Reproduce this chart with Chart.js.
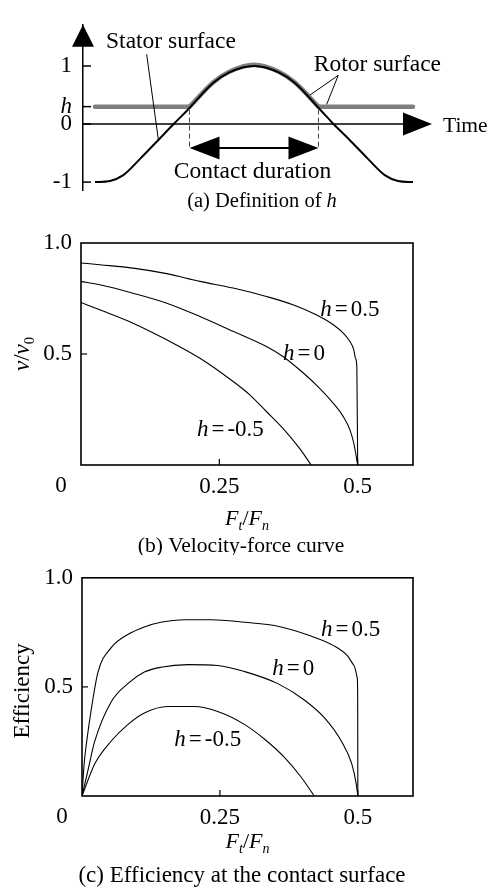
<!DOCTYPE html>
<html>
<head>
<meta charset="utf-8">
<title>Contact model curves</title>
<script src="https://cdn.jsdelivr.net/npm/chart.js@4.4.1/dist/chart.umd.min.js"></script>
<style>
  html, body { margin: 0; padding: 0; background: #fff; }
  body { position: relative; width: 490px; height: 890px; overflow: hidden; }
  canvas { position: absolute; left: 0; }
  #panelA { top: 0; }
  #panelB { top: 215px; }
  #panelC { top: 555px; }
</style>
</head>
<body>
<canvas id="panelA" width="490" height="215"></canvas>
<canvas id="panelB" width="490" height="340"></canvas>
<canvas id="panelC" width="490" height="335"></canvas>
<script>
// (a) surface heights over one period, time in degrees of phase
const statorTime = [0, 17, 32, 51, 72, 89, 104, 134, 152, 180, 208, 226, 256, 270, 288, 309, 328, 343, 360];
const statorHeight = [-1, -0.98, -0.88, -0.6, -0.27, 0, 0.23, 0.71, 0.89, 1, 0.89, 0.71, 0.23, 0, -0.27, -0.6, -0.88, -0.98, -1];
const rotorTime = [0, 107, 134, 152, 180, 208, 226, 253, 360];
const rotorHeight = [0.3, 0.3, 0.72, 0.9, 1.02, 0.9, 0.72, 0.3, 0.3];
const hLevel = 0.3;
const contactStart = 107;
const contactEnd = 253;
const levelTicks = [-1, 0, 0.3, 1];
const levelLabels = ["-1", "0", "h", "1"];

// (b) velocity ratio v/v0 against force ratio Ft/Fn
const forceB05 = [0, 0.034, 0.094, 0.155, 0.215, 0.275, 0.335, 0.383, 0.425, 0.456, 0.474, 0.486, 0.493, 0.496, 0.4985, 0.5];
const velB05 = [0.91, 0.902, 0.887, 0.862, 0.827, 0.797, 0.759, 0.722, 0.677, 0.632, 0.594, 0.556, 0.519, 0.481, 0.444, 0];
const forceB0 = [0, 0.034, 0.094, 0.155, 0.215, 0.275, 0.335, 0.365, 0.395, 0.425, 0.456, 0.474, 0.486, 0.493, 0.5];
const velB0 = [0.827, 0.812, 0.774, 0.729, 0.669, 0.602, 0.534, 0.489, 0.429, 0.361, 0.278, 0.218, 0.158, 0.098, 0];
const forceBm05 = [0, 0.034, 0.094, 0.155, 0.215, 0.275, 0.305, 0.335, 0.365, 0.395, 0.416];
const velBm05 = [0.732, 0.699, 0.639, 0.564, 0.481, 0.376, 0.316, 0.241, 0.165, 0.075, 0];

// (c) efficiency against force ratio
const forceC05 = [0, 0.004, 0.008, 0.017, 0.029, 0.053, 0.083, 0.113, 0.143, 0.186, 0.234, 0.295, 0.355, 0.415, 0.457, 0.481, 0.493, 0.499, 0.4997, 0.5];
const effC05 = [0, 0.15, 0.24, 0.4, 0.568, 0.68, 0.74, 0.775, 0.796, 0.808, 0.808, 0.796, 0.778, 0.733, 0.688, 0.643, 0.598, 0.54, 0.46, 0];
const forceC0 = [0, 0.011, 0.023, 0.053, 0.083, 0.113, 0.143, 0.192, 0.246, 0.295, 0.355, 0.403, 0.44, 0.47, 0.489, 0.497, 0.5];
const effC0 = [0, 0.12, 0.25, 0.432, 0.515, 0.568, 0.59, 0.602, 0.598, 0.57, 0.515, 0.44, 0.357, 0.252, 0.147, 0.057, 0];
const forceCm05 = [0, 0.023, 0.053, 0.083, 0.113, 0.155, 0.204, 0.246, 0.295, 0.331, 0.367, 0.397, 0.421];
const effCm05 = [0, 0.147, 0.252, 0.327, 0.38, 0.41, 0.41, 0.387, 0.327, 0.26, 0.177, 0.087, 0];

const forceTicks = [0, 0.25, 0.5];
const ratioTicks = [0, 0.5, 1.0];
const hValues = ["0.5", "0", "-0.5"];

const SERIF = '"Liberation Serif", "Times New Roman", Times, serif';
Chart.defaults.font.family = SERIF;
Chart.defaults.color = "#000";

function points(xs, ys) {
  return xs.map((x, i) => ({ x: x, y: ys[i] }));
}

function curve(xs, ys) {
  return {
    data: points(xs, ys),
    borderColor: "#000",
    borderWidth: 1.1,
    pointRadius: 0,
    fill: false,
    cubicInterpolationMode: "monotone",
  };
}

function line(ctx, x1, y1, x2, y2) {
  ctx.beginPath();
  ctx.moveTo(x1, y1);
  ctx.lineTo(x2, y2);
  ctx.stroke();
}

// filled triangle, tip at (x, y); dx/dy is the pointing direction
function arrowHead(ctx, x, y, dx, dy, len, half) {
  const bx = x - dx * len;
  const by = y - dy * len;
  ctx.beginPath();
  ctx.moveTo(x, y);
  ctx.lineTo(bx - dy * half, by + dx * half);
  ctx.lineTo(bx + dy * half, by - dx * half);
  ctx.closePath();
  ctx.fill();
}

// text made of parts: {t, it (italic), sub (subscript), gap}
function drawRich(ctx, parts, x, baseline, size, align) {
  let total = 0;
  const items = parts.map((p) => {
    const s = p.sub ? size * 0.64 : size;
    const font = (p.it ? "italic " : "") + s + "px " + SERIF;
    ctx.font = font;
    const w = ctx.measureText(p.t).width;
    total += w + (p.gap || 0);
    return { p: p, font: font, w: w };
  });
  let cx = x;
  if (align === "center") cx = x - total / 2;
  if (align === "right") cx = x - total;
  ctx.textAlign = "left";
  ctx.textBaseline = "alphabetic";
  ctx.fillStyle = "#000";
  items.forEach((it) => {
    ctx.font = it.font;
    ctx.fillText(it.p.t, cx, baseline + (it.p.sub ? size * 0.24 : 0));
    cx += it.w + (it.p.gap || 0);
  });
}

function drawRotated(ctx, parts, cx, cy, baselineX, size) {
  ctx.save();
  ctx.translate(baselineX, cy);
  ctx.rotate(-Math.PI / 2);
  drawRich(ctx, parts, 0, 0, size, "center");
  ctx.restore();
}

const forceTitle = [
  { t: "F", it: true },
  { t: "t", it: true, sub: true },
  { t: "/" },
  { t: "F", it: true },
  { t: "n", it: true, sub: true },
];

// ---------- (a) definition of h ----------
const flatRotor = [
  { x: rotorTime[0], y: rotorHeight[0] },
  { x: rotorTime[1], y: rotorHeight[1] },
  { x: (rotorTime[1] + rotorTime[7]) / 2, y: null },
  { x: rotorTime[7], y: rotorHeight[7] },
  { x: rotorTime[8], y: rotorHeight[8] },
];

const panelAPlugin = {
  id: "panelA",
  beforeDatasetsDraw(chart) {
    const { ctx, chartArea: a, scales } = chart;
    const y = scales.y;
    const y0 = y.getPixelForValue(0);
    ctx.save();
    ctx.strokeStyle = "#000";
    ctx.fillStyle = "#000";
    ctx.lineWidth = 1.5;
    line(ctx, a.left, y0, a.right - 20, y0);
    arrowHead(ctx, a.right, y0, 1, 0, 29, 11.5);
    arrowHead(ctx, a.left, a.top, 0, -1, 22, 11);
    levelTicks.forEach((v) => {
      const py = y.getPixelForValue(v);
      line(ctx, a.left, py, a.left + 8, py);
    });
    ctx.restore();
  },
  afterDatasetsDraw(chart) {
    const { ctx, chartArea: a, scales } = chart;
    const x = scales.x;
    const y = scales.y;
    const px = (v) => x.getPixelForValue(v);
    const py = (v) => y.getPixelForValue(v);
    const x1 = px(contactStart);
    const x2 = px(contactEnd);
    ctx.save();

    // contact duration markers
    ctx.strokeStyle = "#444";
    ctx.lineWidth = 1;
    ctx.setLineDash([5, 3]);
    line(ctx, x1, py(hLevel) + 3, x1, py(-0.44));
    line(ctx, x2, py(hLevel) + 3, x2, py(-0.44));
    ctx.setLineDash([]);

    const ya = py(-0.415);
    ctx.strokeStyle = "#000";
    ctx.fillStyle = "#000";
    ctx.lineWidth = 2;
    line(ctx, x1 + 10, ya, x2 - 10, ya);
    arrowHead(ctx, x1, ya, -1, 0, 30, 11.5);
    arrowHead(ctx, x2, ya, 1, 0, 30, 11.5);

    // leader lines
    ctx.lineWidth = 1;
    line(ctx, px(58.5), py(1.2), px(71.7), py(-0.27));
    line(ctx, px(275.4), py(0.84), px(243.4), py(0.5));
    line(ctx, px(275.4), py(0.84), px(262.3), py(0.34));

    drawRich(ctx, [{ t: "Stator surface" }], px(86), py(1.31), 23.5, "center");
    drawRich(ctx, [{ t: "Rotor surface" }], px(319.7), py(0.914), 23.5, "center");
    drawRich(ctx, [{ t: "Contact duration" }], px(178.3), py(-0.923), 23.5, "center");
    drawRich(ctx, [{ t: "Time" }], a.right + 11, py(0) + 7.5, 21.5, "left");
    drawRich(ctx, [{ t: "(a) Definition of " }, { t: "h", it: true }], 262, 207, 20.5, "center");
    ctx.restore();
  },
};

new Chart(document.getElementById("panelA"), {
  type: "line",
  data: {
    datasets: [
      {
        data: points(statorTime, statorHeight),
        borderColor: "#000",
        borderWidth: 2,
        pointRadius: 0,
        cubicInterpolationMode: "monotone",
      },
      {
        data: points(rotorTime.slice(1, -1), rotorHeight.slice(1, -1)),
        borderColor: "#7f7f7f",
        borderWidth: 4.5,
        borderCapStyle: "round",
        pointRadius: 0,
        cubicInterpolationMode: "monotone",
      },
      {
        data: flatRotor,
        borderColor: "#7f7f7f",
        borderWidth: 4.5,
        borderCapStyle: "round",
        pointRadius: 0,
        spanGaps: false,
        tension: 0,
      },
    ],
  },
  options: {
    responsive: false,
    animation: false,
    devicePixelRatio: 1,
    layout: { padding: { top: 7, right: 58, bottom: 23, left: 0 } },
    plugins: { legend: { display: false }, tooltip: { enabled: false } },
    scales: {
      x: { type: "linear", display: false, min: -13.6, max: 381.5 },
      y: {
        type: "linear",
        min: -1.14,
        max: 1.71,
        afterFit: (s) => { s.width = 83; },
        afterBuildTicks: (s) => { s.ticks = levelTicks.map((v) => ({ value: v })); },
        grid: { display: false, drawTicks: false },
        border: { display: true, color: "#000", width: 1.5 },
        ticks: {
          padding: 11,
          color: "#000",
          font: (c) => ({
            family: SERIF,
            size: 23,
            style: c.tick && c.tick.value === hLevel ? "italic" : "normal",
          }),
          callback: (v, i) => levelLabels[i],
        },
      },
    },
  },
  plugins: [panelAPlugin],
});

// ---------- (b) and (c) share one frame style ----------
function framePlugin(cfg) {
  return {
    id: "frame",
    afterDraw(chart) {
      const { ctx, chartArea: a, scales } = chart;
      const x = scales.x;
      const y = scales.y;
      ctx.save();
      ctx.strokeStyle = "#000";
      ctx.lineWidth = 1.6;
      ctx.strokeRect(a.left, a.top, a.right - a.left, a.bottom - a.top);
      ctx.lineWidth = 1.2;
      forceTicks.slice(1).forEach((v) => {
        const p = x.getPixelForValue(v);
        line(ctx, p, a.bottom, p, a.bottom - 6);
      });
      ratioTicks.slice(1, -1).forEach((v) => {
        const p = y.getPixelForValue(v);
        line(ctx, a.left, p, a.left + 6, p);
      });
      drawRich(ctx, [{ t: "0" }], a.left - 20, a.bottom + 27, 23, "center");

      cfg.labelX.forEach((lx, i) => {
        drawRich(
          ctx,
          [{ t: "h", it: true, gap: 3 }, { t: "=", gap: 3 }, { t: hValues[i] }],
          x.getPixelForValue(lx),
          y.getPixelForValue(cfg.labelY[i]) + 7.8,
          23,
          "center"
        );
      });

      drawRich(ctx, forceTitle, (a.left + a.right) / 2, cfg.xTitleBaseline, 22, "center");
      drawRotated(ctx, cfg.yTitle, 0, (a.top + a.bottom) / 2 + cfg.yTitleShift, 28.5, 23);
      drawRich(ctx, cfg.caption, cfg.captionX, cfg.captionBaseline, cfg.captionSize, "center");
      ctx.restore();
    },
  };
}

function frameOptions(top, left, xHeight) {
  return {
    responsive: false,
    animation: false,
    devicePixelRatio: 1,
    layout: { padding: { top: top, right: 77, bottom: 0, left: 0 } },
    plugins: { legend: { display: false }, tooltip: { enabled: false } },
    scales: {
      x: {
        type: "linear",
        min: 0,
        max: 0.6,
        afterFit: (s) => { s.height = xHeight; },
        afterBuildTicks: (s) => { s.ticks = forceTicks.map((v) => ({ value: v })); },
        grid: { display: false, drawTicks: false },
        border: { display: false },
        ticks: {
          padding: 8,
          color: "#000",
          autoSkip: false,
          maxRotation: 0,
          minRotation: 0,
          font: { family: SERIF, size: 23 },
          callback: (v) => (v === 0 ? "" : String(v)),
        },
      },
      y: {
        type: "linear",
        min: 0,
        max: 1,
        afterFit: (s) => { s.width = left; },
        afterBuildTicks: (s) => { s.ticks = ratioTicks.map((v) => ({ value: v })); },
        grid: { display: false, drawTicks: false },
        border: { display: false },
        ticks: {
          padding: 9,
          color: "#000",
          font: { family: SERIF, size: 23 },
          callback: (v) => (v === 0 ? "" : v.toFixed(1)),
        },
      },
    },
  };
}

new Chart(document.getElementById("panelB"), {
  type: "line",
  data: {
    datasets: [
      curve(forceB05, velB05),
      curve(forceB0, velB0),
      curve(forceBm05, velBm05),
    ],
  },
  options: frameOptions(28, 81, 90),
  plugins: [
    framePlugin({
      labelX: [0.486, 0.403, 0.27],
      labelY: [0.707, 0.507, 0.165],
      xTitleBaseline: 310,
      yTitle: [{ t: "v", it: true }, { t: "/" }, { t: "v", it: true }, { t: "0", sub: true }],
      yTitleShift: 0,
      caption: [{ t: "(b) Velocity-force curve" }],
      captionX: 241,
      captionBaseline: 337,
      captionSize: 21.5,
    }),
  ],
});

new Chart(document.getElementById("panelC"), {
  type: "line",
  data: {
    datasets: [
      curve(forceC05, effC05),
      curve(forceC0, effC0),
      curve(forceCm05, effCm05),
    ],
  },
  options: frameOptions(19, 82, 94),
  plugins: [
    framePlugin({
      labelX: [0.487, 0.383, 0.228],
      labelY: [0.77, 0.59, 0.264],
      xTitleBaseline: 293,
      yTitle: [{ t: "Efficiency" }],
      yTitleShift: 4,
      caption: [{ t: "(c) Efficiency at the contact surface" }],
      captionX: 242,
      captionBaseline: 327,
      captionSize: 23,
    }),
  ],
});
</script>
</body>
</html>
